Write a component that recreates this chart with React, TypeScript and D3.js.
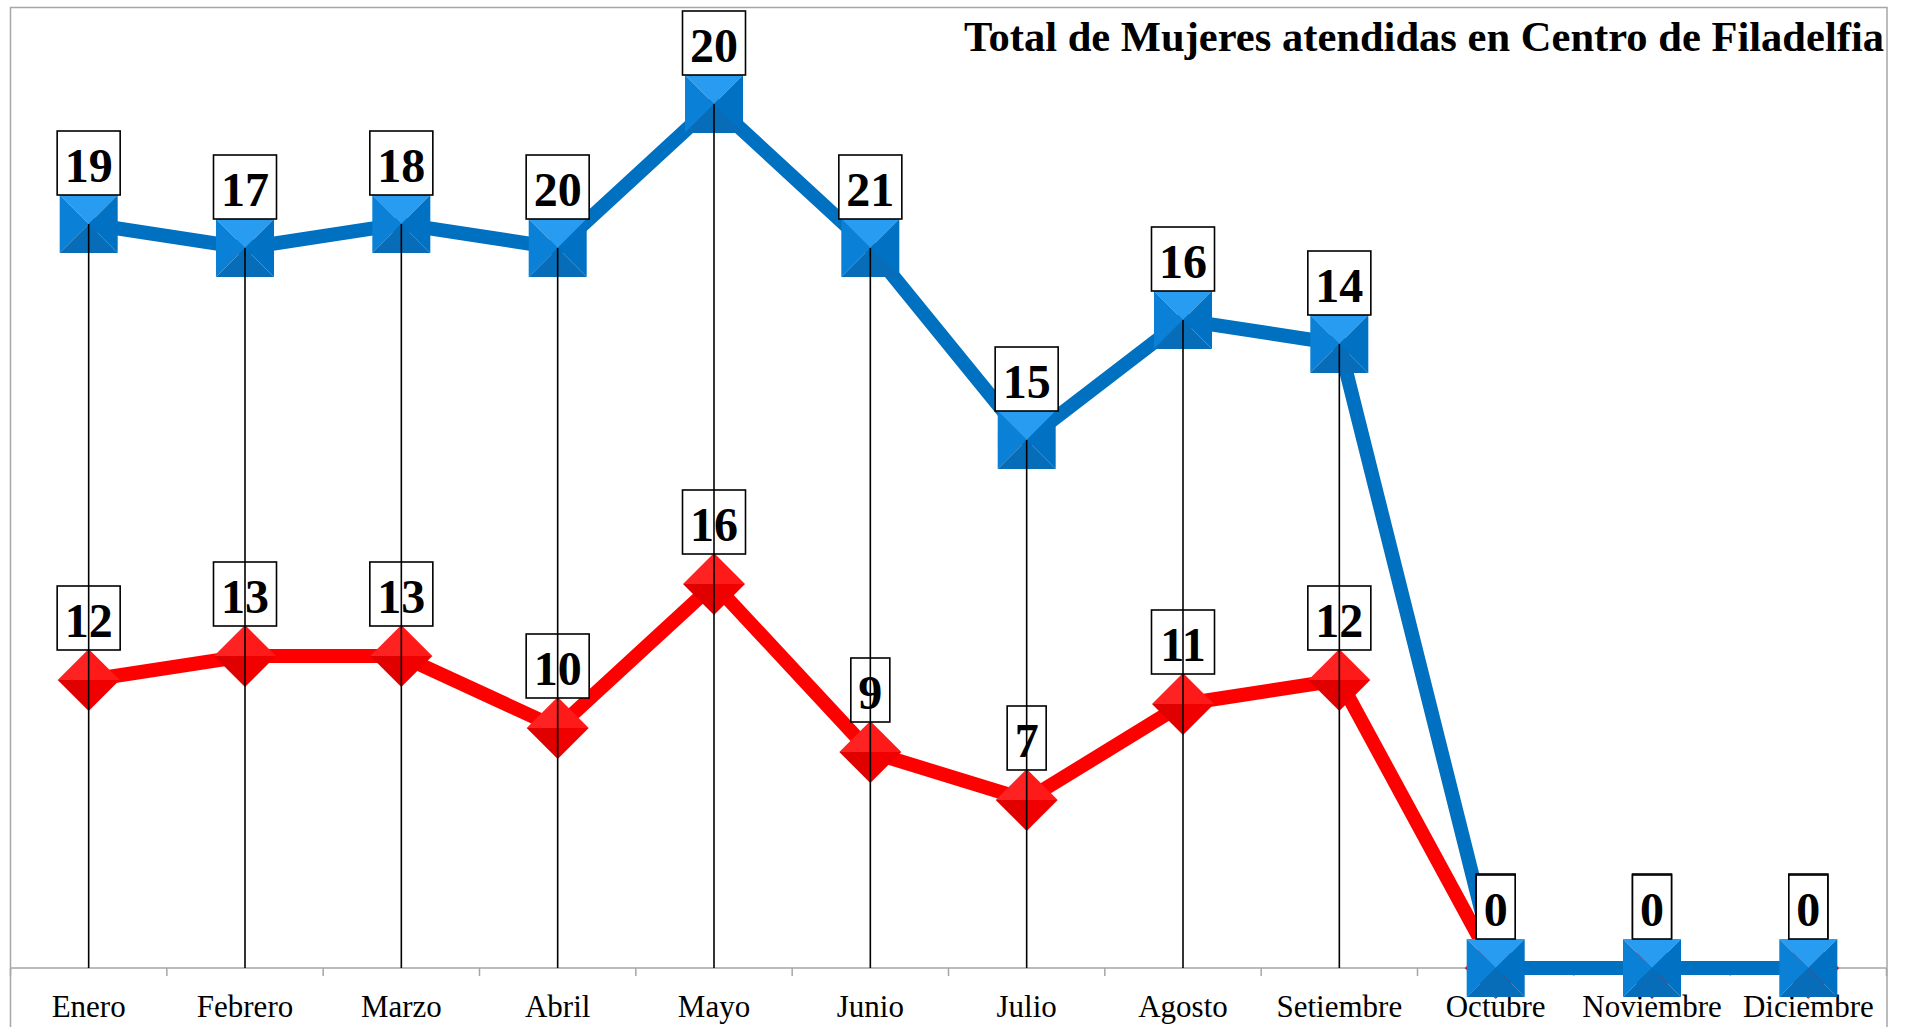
import React from "react";
import * as d3 from "d3";

const months = ["Enero","Febrero","Marzo","Abril","Mayo","Junio","Julio","Agosto","Setiembre","Octubre","Noviembre","Diciembre"];
const redValues = [12,13,13,10,16,9,7,11,12,0,0,0];
const blueValues = [19,17,18,20,20,21,15,16,14,0,0,0];
const title = "Total de Mujeres atendidas en Centro de Filadelfia";
const yDomain = [0, 40];

const W = 1905, H = 1027;
const plotLeft = 10.5, plotRight = 1886.5, plotTop = 8, axisY = 968;
const serif = "'Liberation Serif', 'Times New Roman', Times, serif";

export default function App() {
  const rows = months.map((m, i) => ({ month: m, red: redValues[i], blue: blueValues[i] }));
  const stacked = d3.stack<any>().keys(["red", "blue"])(rows);
  const x = d3.scaleBand().domain(months).range([plotLeft, plotRight]).paddingInner(0).paddingOuter(0);
  const cx = (m: string) => (x(m) as number) + x.bandwidth() / 2;
  const y = d3.scaleLinear().domain(yDomain).range([axisY, plotTop]);

  const redPts = stacked[0].map((d, i) => ({ x: cx(months[i]), y: y(d[1]), v: redValues[i] }));
  const bluePts = stacked[1].map((d, i) => ({ x: cx(months[i]), y: y(d[1]), v: blueValues[i] }));
  const line = d3.line<any>().x(d => d.x).y(d => d.y);

  const sq = 29;
  const dm = 31;
  const fs = 48;
  const labelBox = (p: any, gap: number, key: string) => {
    const txt = String(p.v);
    const w = txt.length * fs * 0.5 + 15;
    const bottom = p.y - gap;
    return (
      <g key={key}>
        <rect x={p.x - w / 2} y={bottom - 64} width={w} height={64} fill="#fff" stroke="#000" strokeWidth={1.6} />
        <text x={p.x} y={bottom - 13} textAnchor="middle" fontFamily={serif} fontWeight="bold" fontSize={fs} fill="#000">{txt}</text>
      </g>
    );
  };

  const ticks = d3.range(months.length + 1).map(i => plotLeft + i * x.bandwidth());

  return (
    <svg width={W} height={H} style={{ position: "absolute", left: 0, top: 0, background: "#fff" }}>
      <rect x={10.5} y={7.5} width={1876.5} height={1100} fill="#fff" stroke="#a6a6a6" strokeWidth={1.5} />
      <line x1={plotLeft} x2={plotRight} y1={axisY} y2={axisY} stroke="#a6a6a6" strokeWidth={1.5} />
      {ticks.map((t, i) => (
        <line key={"t" + i} x1={t} x2={t} y1={axisY} y2={axisY + 8} stroke="#a6a6a6" strokeWidth={1.5} />
      ))}
      {months.map(m => (
        <text key={"m" + m} x={cx(m)} y={1017} textAnchor="middle" fontFamily={serif} fontSize={31} fill="#000">{m}</text>
      ))}
      <text x={1884} y={51} textAnchor="end" fontFamily={serif} fontWeight="bold" fontSize={42} textLength={920} lengthAdjust="spacingAndGlyphs" fill="#000">{title}</text>

      <path d={line(redPts) as string} fill="none" stroke="#ff0000" strokeWidth={14} strokeLinejoin="miter" />
      {redPts.map((p, i) => (
        <g key={"rd" + i}>
          <polygon points={`${p.x},${p.y - dm} ${p.x - dm},${p.y} ${p.x},${p.y}`} fill="#ff2222" />
          <polygon points={`${p.x},${p.y - dm} ${p.x + dm},${p.y} ${p.x},${p.y}`} fill="#ff1a1a" />
          <polygon points={`${p.x - dm},${p.y} ${p.x},${p.y + dm} ${p.x},${p.y}`} fill="#e00000" />
          <polygon points={`${p.x + dm},${p.y} ${p.x},${p.y + dm} ${p.x},${p.y}`} fill="#f00000" />
        </g>
      ))}
      <path d={line(bluePts) as string} fill="none" stroke="#0070c0" strokeWidth={14} strokeLinejoin="miter" />
      {bluePts.map((p, i) => (
        <g key={"bs" + i}>
          <polygon points={`${p.x - sq},${p.y - sq} ${p.x + sq},${p.y - sq} ${p.x},${p.y}`} fill="#289cf0" />
          <polygon points={`${p.x - sq},${p.y - sq} ${p.x - sq},${p.y + sq} ${p.x},${p.y}`} fill="#0a80d6" />
          <polygon points={`${p.x + sq},${p.y - sq} ${p.x + sq},${p.y + sq} ${p.x},${p.y}`} fill="#0071c3" />
          <polygon points={`${p.x - sq},${p.y + sq} ${p.x + sq},${p.y + sq} ${p.x},${p.y}`} fill="#076db8" />
        </g>
      ))}
      {redPts.map((p, i) => labelBox(p, 30, "rl" + i))}
      {bluePts.map((p, i) => labelBox(p, 29, "bl" + i))}
      {bluePts.map((p, i) => (
        <line key={"dl" + i} x1={p.x} x2={p.x} y1={p.y} y2={axisY} stroke="#000" strokeWidth={1.6} />
      ))}
    </svg>
  );
}
